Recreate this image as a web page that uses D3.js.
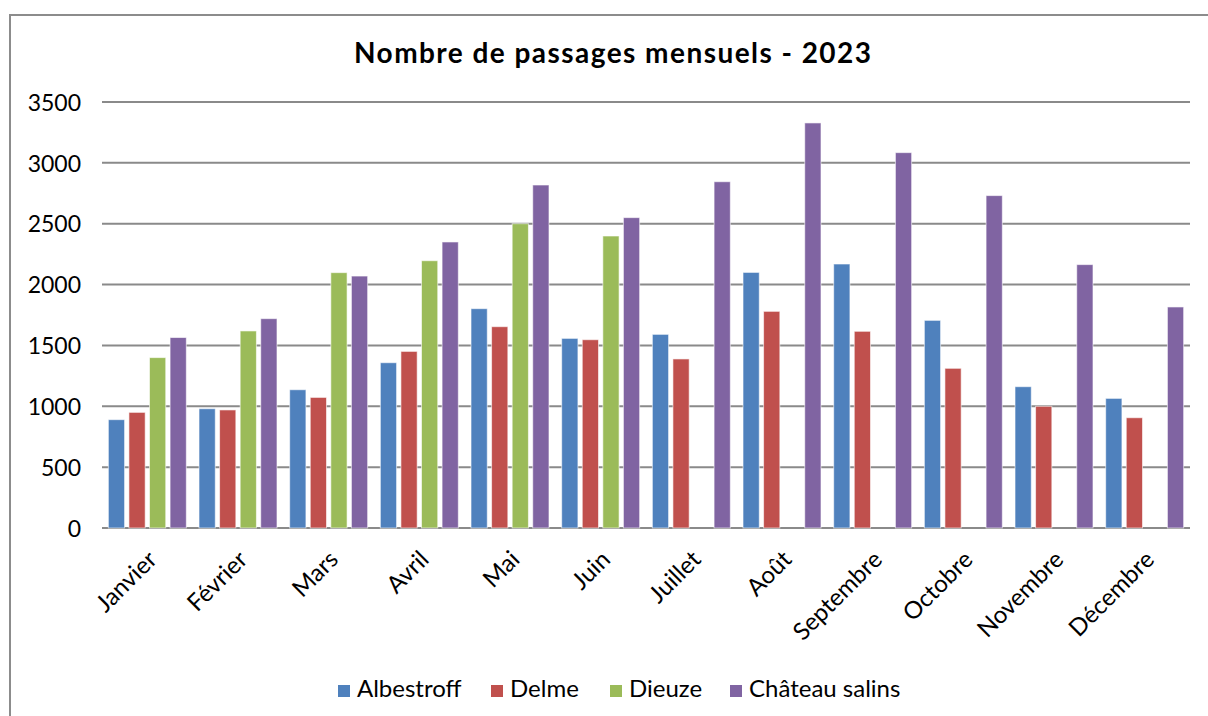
<!DOCTYPE html>
<html>
<head>
<meta charset="utf-8">
<script src="https://cdn.jsdelivr.net/npm/d3@7"></script>
<style>
  body { margin: 0; background: #fff; }
  text { font-family: Lato, "Open Sans", sans-serif; fill: #000; }
</style>
</head>
<body>
<div id="chart"></div>
<script>
// données
var months = ["Janvier", "Février", "Mars", "Avril", "Mai", "Juin", "Juillet", "Août", "Septembre", "Octobre", "Novembre", "Décembre"];
var seriesNames = ["Albestroff", "Delme", "Dieuze", "Château salins"];
var albestroff = [890, 980, 1136, 1358, 1802, 1558, 1591, 2100, 2169, 1706, 1161, 1065];
var delme = [950, 970, 1073, 1451, 1654, 1547, 1389, 1780, 1616, 1312, 1000, 906];
var dieuze = [1400, 1619, 2098, 2196, 2500, 2399, null, null, null, null, null, null];
var chateauSalins = [1565, 1720, 2070, 2350, 2818, 2550, 2845, 3328, 3084, 2731, 2164, 1816];
var yTicks = [0, 500, 1000, 1500, 2000, 2500, 3000, 3500];
var colors = ["#4F81BD", "#C0504D", "#9BBB59", "#8064A2"];

var width = 1208, height = 716;
var margin = {left: 102, right: 18, top: 102, bottom: 188};

var svg = d3.select("#chart").append("svg")
    .attr("width", width)
    .attr("height", height);

// cadre
svg.append("rect")
    .attr("x", 10).attr("y", 15)
    .attr("width", 1220).attr("height", 720)
    .attr("fill", "none")
    .attr("stroke", "#8c8c8c")
    .attr("stroke-width", 2);

svg.append("text")
    .attr("x", 354).attr("y", 63)
    .attr("textLength", 517)
    .attr("lengthAdjust", "spacing")
    .style("font-size", "28px")
    .style("font-weight", "bold")
    .text("Nombre de passages mensuels - 2023");

var y = d3.scaleLinear().domain([0, 3500]).range([height - margin.bottom, margin.top]);
var x0 = d3.scaleBand().domain(months)
    .range([margin.left, width - margin.right])
    .paddingInner(0.14).paddingOuter(0.07);
var x1 = d3.scaleBand().domain(seriesNames)
    .range([0, x0.bandwidth()])
    .paddingInner(0.21).paddingOuter(0);

// grille
svg.append("g").selectAll("line")
    .data(yTicks)
    .enter().append("line")
    .attr("x1", margin.left).attr("x2", width - margin.right)
    .attr("y1", function(d) { return y(d); })
    .attr("y2", function(d) { return y(d); })
    .attr("stroke", "#8a8a8a")
    .attr("stroke-width", 2);

var yAxis = svg.append("g")
    .attr("transform", "translate(" + (margin.left - 21) + ",0)")
    .call(d3.axisLeft(y).tickValues(yTicks).tickFormat(d3.format("d")).tickSize(0).tickPadding(0));
yAxis.select(".domain").remove();
yAxis.selectAll("text")
    .style("font-size", "23px")
    .style("font-family", "Lato, sans-serif")
    .attr("dy", "0.36em");

var xAxis = svg.append("g")
    .attr("transform", "translate(0," + (height - margin.bottom) + ")")
    .call(d3.axisBottom(x0).tickSize(0).tickPadding(0));
xAxis.select(".domain").remove();
xAxis.selectAll("text")
    .style("font-size", "24px")
    .style("font-family", "Lato, sans-serif")
    .attr("text-anchor", "end")
    .attr("dy", "0")
    .attr("transform", "translate(11,33) rotate(-45)");

var allSeries = [albestroff, delme, dieuze, chateauSalins];
var rows = [];
months.forEach(function(m, i) {
    seriesNames.forEach(function(s, j) {
        if (allSeries[j][i] != null) rows.push({month: m, series: s, value: allSeries[j][i], k: j});
    });
});

svg.append("g").selectAll("rect")
    .data(rows)
    .enter().append("rect")
    .attr("x", function(d) { return x0(d.month) + x1(d.series); })
    .attr("y", function(d) { return y(d.value); })
    .attr("width", x1.bandwidth())
    .attr("height", function(d) { return y(0) - y(d.value); })
    .attr("fill", function(d) { return colors[d.k]; })
    .attr("stroke", "#ffffff")
    .attr("stroke-opacity", 0.6)
    .attr("stroke-width", 1);

// légende
var legendX = [338, 491, 610, 730];
var legend = svg.append("g").selectAll("g")
    .data(seriesNames)
    .enter().append("g")
    .attr("transform", function(d, i) { return "translate(" + legendX[i] + ",685)"; });
legend.append("rect")
    .attr("width", 12).attr("height", 12)
    .attr("fill", function(d, i) { return colors[i]; });
legend.append("text")
    .attr("x", 19).attr("y", 12)
    .style("font-size", "24px")
    .text(function(d) { return d; });
</script>
</body>
</html>
